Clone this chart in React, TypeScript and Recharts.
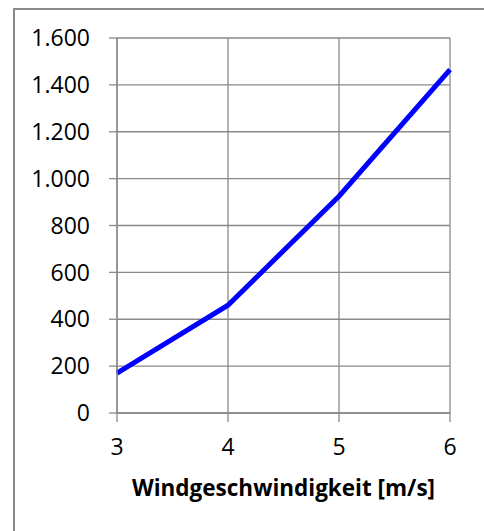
import React from "react";
import {
  LineChart,
  Line,
  XAxis,
  YAxis,
  CartesianGrid,
} from "recharts";

// wind speed [m/s]
const windSpeeds = [3, 4, 5, 6];
// power values
const powerValues = [170, 460, 925, 1465];
const yTicks = [0, 200, 400, 600, 800, 1000, 1200, 1400, 1600];
const xTicks = [3, 4, 5, 6];

const data = windSpeeds.map((v, i) => ({ speed: v, power: powerValues[i] }));

const formatThousands = (value: number) =>
  String(value).replace(/\B(?=(\d{3})+(?!\d))/g, ".");

const font = "'Open Sans', sans-serif";
const gridColor = "#898989";

const App = () => {
  return (
    <div
      style={{
        position: "absolute",
        left: 0,
        top: 0,
        width: 484,
        height: 531,
        background: "#fff",
        overflow: "hidden",
        fontFamily: font,
      }}
    >
      <div
        style={{
          position: "absolute",
          left: 13,
          top: 8,
          width: 500,
          height: 560,
          borderLeft: `2px solid ${gridColor}`,
          borderTop: `2px solid ${gridColor}`,
          boxSizing: "border-box",
        }}
      />
      <div style={{ position: "absolute", left: 0, top: 0 }}>
        <LineChart
          width={484}
          height={531}
          data={data}
          margin={{ top: 38, right: 34, left: 0, bottom: 0 }}
        >
          <CartesianGrid stroke={gridColor} strokeWidth={1.3} />
          <XAxis
            dataKey="speed"
            type="number"
            domain={[3, 6]}
            ticks={xTicks}
            height={118}
            tickSize={9}
            tickMargin={17}
            stroke={gridColor}
            strokeWidth={1.3}
            tick={{ fill: "#000", fontSize: 23, fontFamily: font }}
            label={{
              value: "Windgeschwindigkeit [m/s]",
              position: "insideBottom",
              offset: 35,
              fill: "#000",
              fontSize: 22.5,
              fontWeight: 700,
              fontFamily: font,
            }}
          />
          <YAxis
            type="number"
            domain={[0, 1600]}
            ticks={yTicks}
            width={117}
            tickSize={8}
            tickMargin={19}
            stroke={gridColor}
            strokeWidth={1.3}
            tickFormatter={formatThousands}
            tick={{ fill: "#000", fontSize: 23, fontFamily: font }}
          />
          <Line
            type="linear"
            dataKey="power"
            stroke="#0000FF"
            strokeWidth={5}
            dot={false}
            isAnimationActive={false}
          />
        </LineChart>
      </div>
    </div>
  );
};

export default App;
